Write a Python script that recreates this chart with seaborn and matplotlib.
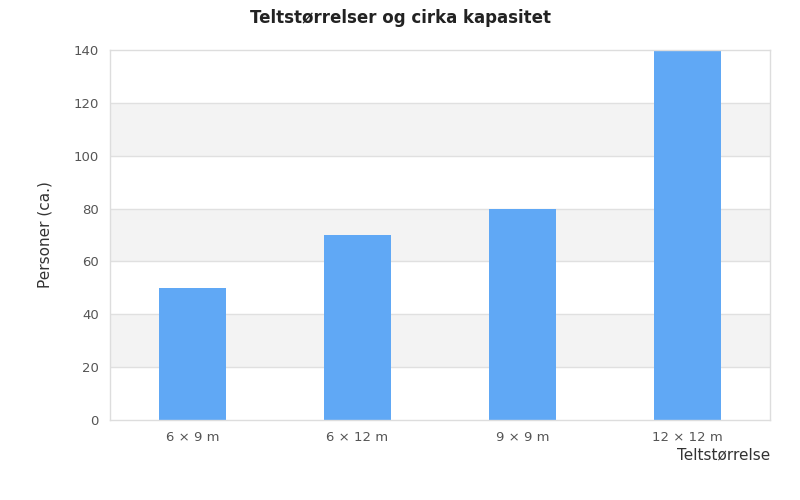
import matplotlib
matplotlib.use("Agg")
import matplotlib.pyplot as plt
import pandas as pd
import seaborn as sns

# tent sizes and approximate capacity
sizes = ["6 × 9 m", "6 × 12 m", "9 × 9 m", "12 × 12 m"]
people = [50, 70, 80, 140]
y_ticks = [0, 20, 40, 60, 80, 100, 120, 140]

df = pd.DataFrame({"size": sizes, "people": people})

sns.set_style("white")
plt.rcParams["font.family"] = ["DejaVu Sans"]

fig = plt.figure(figsize=(8, 5), dpi=100)
ax = fig.add_axes([110 / 800, 80 / 500, 660 / 800, 370 / 500])

# alternating bands
for i in range(len(y_ticks) - 1):
    if i % 2 == 1:
        ax.axhspan(y_ticks[i], y_ticks[i + 1], color="#f3f3f3", zorder=0, lw=0)
for t in y_ticks[1:-1]:
    ax.axhline(t, color="#e0e0e0", lw=1, zorder=1)

sns.barplot(data=df, x="size", y="people", color="#60a8f5", width=0.41,
            saturation=1, linewidth=0, ax=ax, zorder=2)

ax.set_ylim(0, 140)
ax.set_yticks(y_ticks)
for s in ax.spines.values():
    s.set_color("#dddddd")
    s.set_linewidth(1)
ax.tick_params(axis="both", length=0, colors="#555555", labelsize=9.5, pad=8)

ax.set_ylabel("Personer (ca.)", fontsize=11, color="#333333", labelpad=15)
ax.set_xlabel("Teltstørrelse", fontsize=11, color="#333333")
ax.xaxis.set_label_coords(1.0, -0.075)
ax.xaxis.label.set_horizontalalignment("right")

fig.suptitle("Teltstørrelser og cirka kapasitet", fontsize=12, fontweight="bold",
             color="#222222", y=0.982)

fig.savefig("out.png", dpi=100)
